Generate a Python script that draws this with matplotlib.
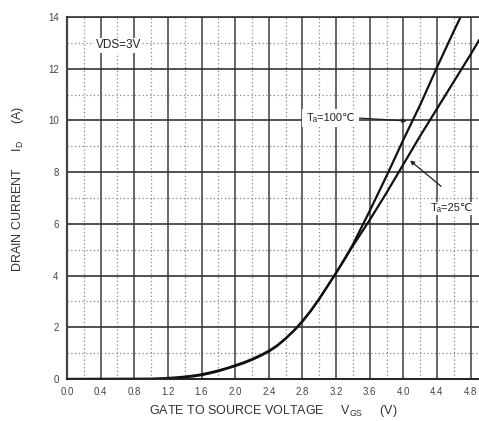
import matplotlib
matplotlib.use("Agg")
import matplotlib.pyplot as plt
import numpy as np

plt.rcParams['font.family'] = ['Liberation Sans', 'DejaVu Sans']
plt.rcParams['mathtext.fontset'] = 'custom'
plt.rcParams['mathtext.rm'] = 'Liberation Sans'
plt.rcParams['mathtext.it'] = 'Liberation Sans'

# data
vgs = [0.0, 1.0, 1.1, 1.2, 1.3, 1.4, 1.5, 1.6, 1.7, 1.8, 1.9, 2.0, 2.1, 2.2, 2.3,
       2.4, 2.5, 2.6, 2.7, 2.8, 2.9, 3.0, 3.1, 3.2, 3.3, 3.4, 3.6, 3.8, 4.0,
       4.2, 4.4, 4.6, 4.8, 4.9]
id_25 = [0.0, 0.0, 0.01, 0.02, 0.04, 0.07, 0.1, 0.15, 0.22, 0.3, 0.4, 0.5, 0.61, 0.74, 0.89,
         1.06, 1.28, 1.56, 1.88, 2.24, 2.65, 3.1, 3.6, 4.1, 4.62, 5.15, 6.15, 7.2, 8.3,
         9.4, 10.45, 11.5, 12.55, 13.1]
id_100 = [0.0, 0.01, 0.02, 0.04, 0.06, 0.09, 0.13, 0.18, 0.25, 0.33, 0.42, 0.53, 0.64, 0.77, 0.92,
          1.09, 1.3, 1.57, 1.87, 2.22, 2.63, 3.1, 3.6, 4.1, 4.64, 5.2, 6.5, 7.85, 9.25,
          10.6, 12.05, 13.45, 14.8, 15.5]

xticks = [0.0, 0.4, 0.8, 1.2, 1.6, 2.0, 2.4, 2.8, 3.2, 3.6, 4.0, 4.4, 4.8]
yticks = [0, 2, 4, 6, 8, 10, 12, 14]

fig = plt.figure(figsize=(4.79, 4.21), dpi=100)
ax = fig.add_axes([67 / 479, 1 - 379 / 421, 1 - 67 / 479, (379 - 17) / 421])

ax.set_xlim(0, 4.9)
ax.set_ylim(0, 14)
ax.set_xticks(xticks)
ax.set_xticklabels(["%.1f" % v for v in xticks])
ax.set_yticks(yticks)
ax.set_xticks(np.arange(0.2, 4.9, 0.4), minor=True)
ax.set_yticks(np.arange(1, 14, 2), minor=True)

ax.grid(True, which='major', axis='x', color='#666666', lw=1.4)
ax.grid(True, which='major', axis='y', color='#333333', lw=1.2)
ax.grid(True, which='minor', color='#888888', lw=0.9, ls=(0, (1, 2)))
ax.tick_params(which='both', length=0, labelsize=7, colors='#444444', pad=6)

ax.spines['right'].set_visible(False)
ax.spines['left'].set_color('#444444')
ax.spines['left'].set_linewidth(1.6)
ax.spines['bottom'].set_color('#222222')
ax.spines['bottom'].set_linewidth(1.4)
ax.spines['top'].set_color('#333333')
ax.spines['top'].set_linewidth(1.2)

ax.plot(vgs, id_25, color='#111111', lw=1.6)
ax.plot(vgs, id_100, color='#111111', lw=1.6)

ax.text(0.34, 12.9, "VDS=3V", fontsize=8.5, color='#222222', va='center',
        bbox=dict(facecolor='white', edgecolor='none', pad=1))
ax.annotate("T\u2090=100\u2103", xy=(4.04, 9.98), xytext=(2.85, 10.1), fontsize=8,
            color='#222222', va='center',
            bbox=dict(facecolor='white', edgecolor='none', pad=3),
            arrowprops=dict(arrowstyle='-|>', color='#222222', lw=0.9,
                            mutation_scale=6, shrinkA=0, shrinkB=0,
                            relpos=(1.0, 0.5)))
ax.annotate("", xy=(4.08, 8.45), xytext=(4.45, 7.45),
            arrowprops=dict(arrowstyle='-|>', color='#222222', lw=0.9,
                            mutation_scale=6, shrinkA=0, shrinkB=0))
ax.text(4.33, 6.6, "T\u2090=25\u2103", fontsize=8, color='#222222', va='center',
        bbox=dict(facecolor='white', edgecolor='none', pad=1))

ax.set_xlabel("GATE TO SOURCE VOLTAGE     V$_{GS}$     (V)", fontsize=9,
              color='#333333', labelpad=4)
ax.set_ylabel("DRAIN CURRENT     I$_{D}$     (A)", fontsize=9, color='#333333')
ax.yaxis.set_label_coords(-0.1, 0.525)

fig.savefig("out.png", dpi=100)
